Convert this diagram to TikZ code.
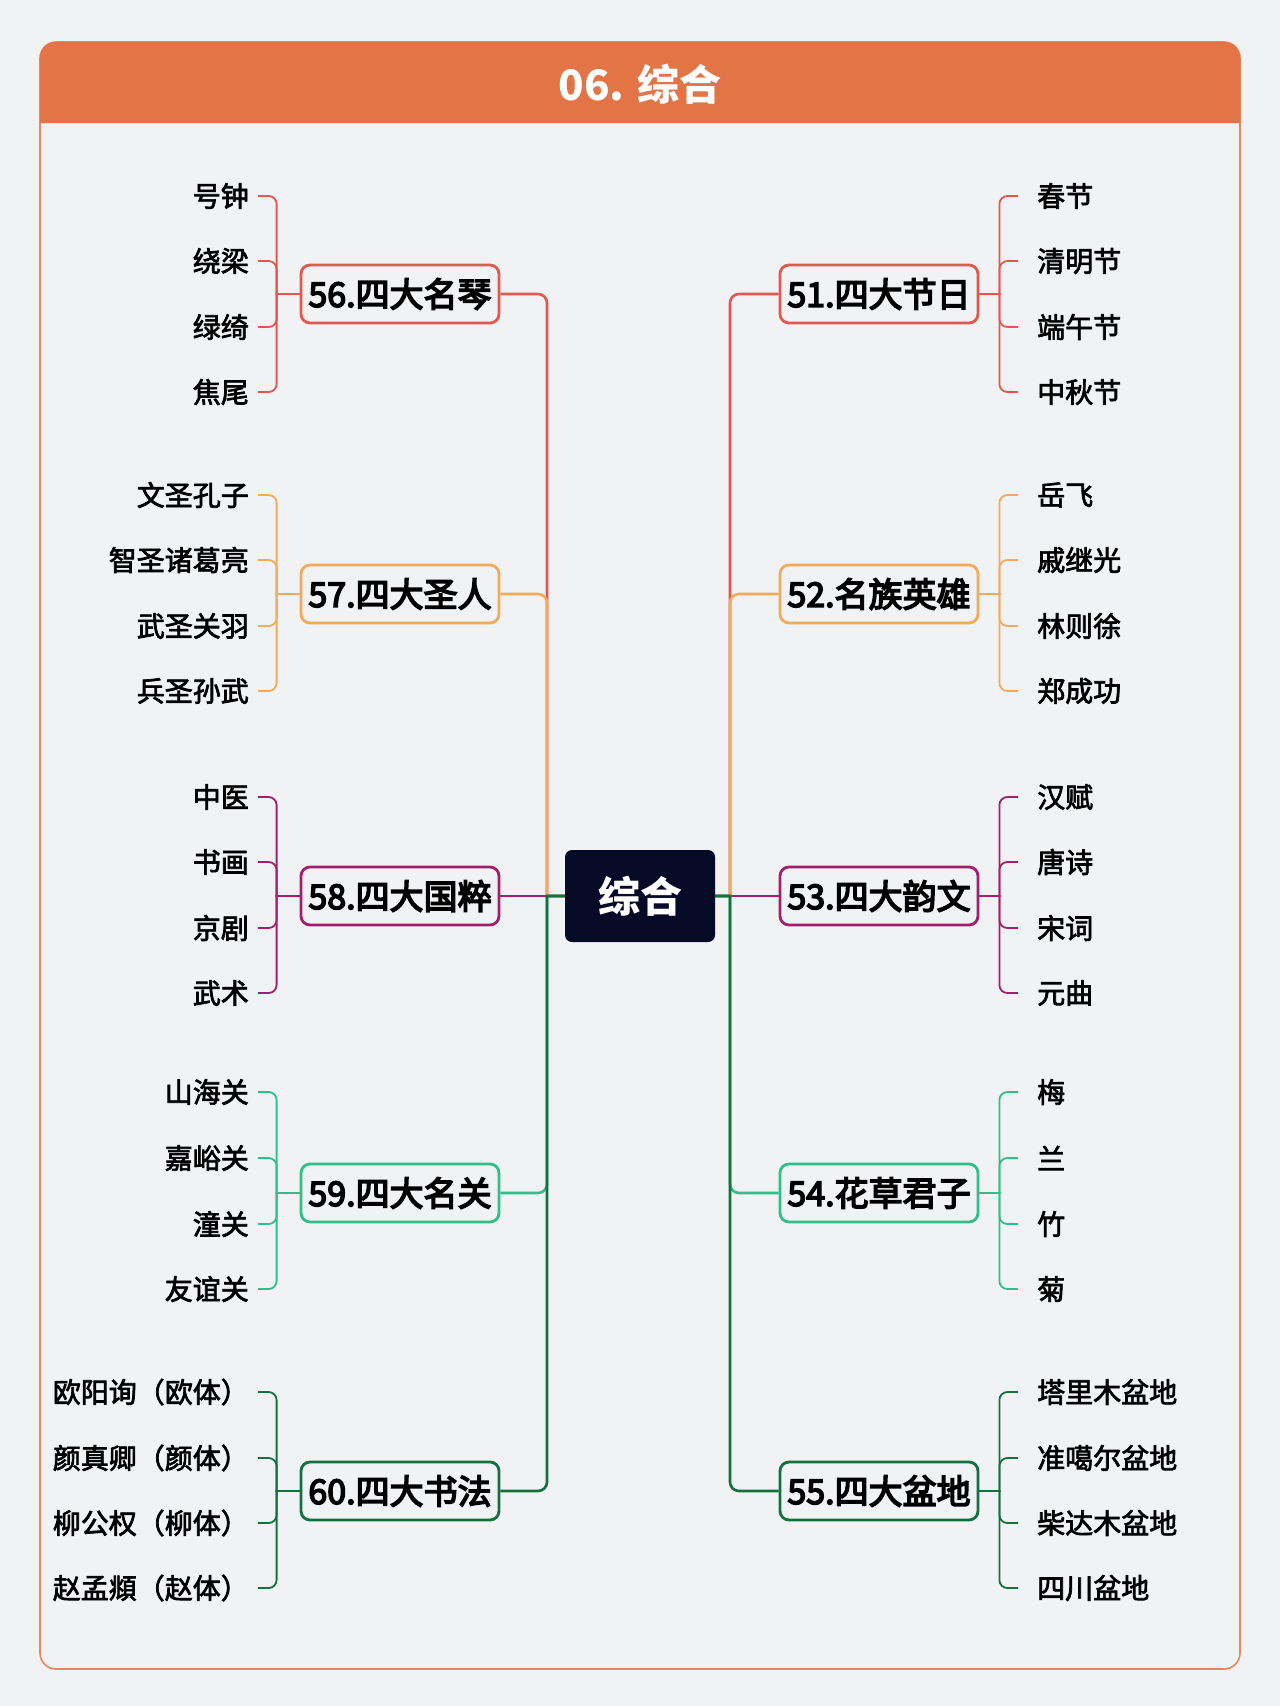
\documentclass[tikz,border=0pt]{standalone}
\usepackage{fontspec}
\setmainfont{Noto Sans CJK SC}
\newfontfamily\topicfont{Noto Sans CJK SC}[FakeBold=4.5]
\newfontfamily\leaffont{Noto Sans CJK SC}[FakeBold=2.5]
\usetikzlibrary{positioning}

\definecolor{bgcol}{HTML}{F0F2F3}
\definecolor{headcol}{HTML}{E27446}
\definecolor{framecol}{HTML}{E8875A}
\definecolor{rootcol}{HTML}{070A27}
\definecolor{cred}{HTML}{E2574F}
\definecolor{corange}{HTML}{F2AA5C}
\definecolor{cpurple}{HTML}{A11F6C}
\definecolor{cteal}{HTML}{2FBF88}
\definecolor{cgreen}{HTML}{14703F}

\begin{document}
\begin{tikzpicture}[
    x=1pt, y=-1pt,
    % Node styles
    title/.style={text=white, font=\fontsize{42}{42}\selectfont\bfseries},
    root/.style={fill=rootcol, rounded corners=7pt, minimum width=150pt, minimum height=92pt, text=white, font=\fontsize{42}{42}\selectfont\bfseries},
    topic/.style={draw=#1, line width=2.8pt, fill=bgcol, rounded corners=9pt, minimum width=198pt, minimum height=58pt, inner sep=0pt, font=\fontsize{34}{34}\topicfont},
    leafl/.style={anchor=east, inner xsep=9pt, inner ysep=0pt, font=\fontsize{28}{28}\leaffont},
    leafr/.style={anchor=west, inner xsep=19pt, inner ysep=0pt, font=\fontsize{28}{28}\leaffont},
    trunk/.style={line width=2.6pt},
    twig/.style={line width=1.8pt},
]

    % Page and frame
    \fill[bgcol] (0,0) rectangle (1280,1706);
    \draw[framecol, line width=1.6pt, rounded corners=16pt] (40,42) rectangle (1240,1669);
    \fill[headcol] (40,123) [rounded corners=16pt]-- (40,42) -- (1240,42) [sharp corners]-- (1240,123) -- cycle;
    \node[title] (head) at (640,84) {06. 综合};

    % Centre
    \node[root] (root) at (640,896) {综合};
    \coordinate (ltrunk) at (547,896);
    \coordinate (rtrunk) at (730,896);

    % Left topics
    \node[topic=cred] (qin) at (400,294) {56.四大名琴};
    \node[topic=corange] (sage) at (400,594) {57.四大圣人};
    \node[topic=cpurple] (art) at (400,896) {58.四大国粹};
    \node[topic=cteal] (pass) at (400,1193) {59.四大名关};
    \node[topic=cgreen] (calli) at (400,1491) {60.四大书法};

    % Right topics
    \node[topic=cred] (fest) at (879,294) {51.四大节日};
    \node[topic=corange] (hero) at (879,594) {52.名族英雄};
    \node[topic=cpurple] (verse) at (879,896) {53.四大韵文};
    \node[topic=cteal] (plant) at (879,1193) {54.花草君子};
    \node[topic=cgreen] (basin) at (879,1491) {55.四大盆地};

    % Left leaves
    \node[leafl] (qin1) at (258,196) {号钟};
    \node[leafl] (qin2) at (258,261) {绕梁};
    \node[leafl] (qin3) at (258,327) {绿绮};
    \node[leafl] (qin4) at (258,392) {焦尾};
    \node[leafl] (sage1) at (258,495) {文圣孔子};
    \node[leafl] (sage2) at (258,560) {智圣诸葛亮};
    \node[leafl] (sage3) at (258,626) {武圣关羽};
    \node[leafl] (sage4) at (258,691) {兵圣孙武};
    \node[leafl] (art1) at (258,797) {中医};
    \node[leafl] (art2) at (258,862) {书画};
    \node[leafl] (art3) at (258,928) {京剧};
    \node[leafl] (art4) at (258,993) {武术};
    \node[leafl] (pass1) at (258,1092) {山海关};
    \node[leafl] (pass2) at (258,1158) {嘉峪关};
    \node[leafl] (pass3) at (258,1224) {潼关};
    \node[leafl] (pass4) at (258,1289) {友谊关};
    \node[leafl] (calli1) at (258,1392) {欧阳询（欧体）};
    \node[leafl] (calli2) at (258,1458) {颜真卿（颜体）};
    \node[leafl] (calli3) at (258,1523) {柳公权（柳体）};
    \node[leafl] (calli4) at (258,1588) {赵孟頫（赵体）};

    % Right leaves
    \node[leafr] (fest1) at (1018,196) {春节};
    \node[leafr] (fest2) at (1018,261) {清明节};
    \node[leafr] (fest3) at (1018,327) {端午节};
    \node[leafr] (fest4) at (1018,392) {中秋节};
    \node[leafr] (hero1) at (1018,495) {岳飞};
    \node[leafr] (hero2) at (1018,560) {戚继光};
    \node[leafr] (hero3) at (1018,626) {林则徐};
    \node[leafr] (hero4) at (1018,691) {郑成功};
    \node[leafr] (verse1) at (1018,797) {汉赋};
    \node[leafr] (verse2) at (1018,862) {唐诗};
    \node[leafr] (verse3) at (1018,928) {宋词};
    \node[leafr] (verse4) at (1018,993) {元曲};
    \node[leafr] (plant1) at (1018,1092) {梅};
    \node[leafr] (plant2) at (1018,1158) {兰};
    \node[leafr] (plant3) at (1018,1224) {竹};
    \node[leafr] (plant4) at (1018,1289) {菊};
    \node[leafr] (basin1) at (1018,1392) {塔里木盆地};
    \node[leafr] (basin2) at (1018,1458) {准噶尔盆地};
    \node[leafr] (basin3) at (1018,1523) {柴达木盆地};
    \node[leafr] (basin4) at (1018,1588) {四川盆地};

    % Trunks from the centre
    \draw[trunk, cred] (root.west) -- (ltrunk) [rounded corners=9pt]|- (qin.east);
    \draw[trunk, corange] (root.west) -- (ltrunk) [rounded corners=9pt]|- (sage.east);
    \draw[trunk, cpurple] (root.west) -- (art.east);
    \draw[trunk, cteal] (root.west) -- (ltrunk) [rounded corners=9pt]|- (pass.east);
    \draw[trunk, cgreen] (root.west) -- (ltrunk) [rounded corners=9pt]|- (calli.east);
    \draw[trunk, cred] (root.east) -- (rtrunk) [rounded corners=9pt]|- (fest.west);
    \draw[trunk, corange] (root.east) -- (rtrunk) [rounded corners=9pt]|- (hero.west);
    \draw[trunk, cpurple] (root.east) -- (verse.west);
    \draw[trunk, cteal] (root.east) -- (rtrunk) [rounded corners=9pt]|- (plant.west);
    \draw[trunk, cgreen] (root.east) -- (rtrunk) [rounded corners=9pt]|- (basin.west);

    % Twigs to the leaves
    \draw[twig, cred] (qin.west) -- ++(-23,0) [rounded corners=8pt]|- (qin1.east);
    \draw[twig, cred] (qin.west) -- ++(-23,0) [rounded corners=8pt]|- (qin2.east);
    \draw[twig, cred] (qin.west) -- ++(-23,0) [rounded corners=8pt]|- (qin3.east);
    \draw[twig, cred] (qin.west) -- ++(-23,0) [rounded corners=8pt]|- (qin4.east);
    \draw[twig, corange] (sage.west) -- ++(-23,0) [rounded corners=8pt]|- (sage1.east);
    \draw[twig, corange] (sage.west) -- ++(-23,0) [rounded corners=8pt]|- (sage2.east);
    \draw[twig, corange] (sage.west) -- ++(-23,0) [rounded corners=8pt]|- (sage3.east);
    \draw[twig, corange] (sage.west) -- ++(-23,0) [rounded corners=8pt]|- (sage4.east);
    \draw[twig, cpurple] (art.west) -- ++(-23,0) [rounded corners=8pt]|- (art1.east);
    \draw[twig, cpurple] (art.west) -- ++(-23,0) [rounded corners=8pt]|- (art2.east);
    \draw[twig, cpurple] (art.west) -- ++(-23,0) [rounded corners=8pt]|- (art3.east);
    \draw[twig, cpurple] (art.west) -- ++(-23,0) [rounded corners=8pt]|- (art4.east);
    \draw[twig, cteal] (pass.west) -- ++(-23,0) [rounded corners=8pt]|- (pass1.east);
    \draw[twig, cteal] (pass.west) -- ++(-23,0) [rounded corners=8pt]|- (pass2.east);
    \draw[twig, cteal] (pass.west) -- ++(-23,0) [rounded corners=8pt]|- (pass3.east);
    \draw[twig, cteal] (pass.west) -- ++(-23,0) [rounded corners=8pt]|- (pass4.east);
    \draw[twig, cgreen] (calli.west) -- ++(-23,0) [rounded corners=8pt]|- (calli1.east);
    \draw[twig, cgreen] (calli.west) -- ++(-23,0) [rounded corners=8pt]|- (calli2.east);
    \draw[twig, cgreen] (calli.west) -- ++(-23,0) [rounded corners=8pt]|- (calli3.east);
    \draw[twig, cgreen] (calli.west) -- ++(-23,0) [rounded corners=8pt]|- (calli4.east);

    \draw[twig, cred] (fest.east) -- ++(20,0) [rounded corners=8pt]|- (fest1.west);
    \draw[twig, cred] (fest.east) -- ++(20,0) [rounded corners=8pt]|- (fest2.west);
    \draw[twig, cred] (fest.east) -- ++(20,0) [rounded corners=8pt]|- (fest3.west);
    \draw[twig, cred] (fest.east) -- ++(20,0) [rounded corners=8pt]|- (fest4.west);
    \draw[twig, corange] (hero.east) -- ++(20,0) [rounded corners=8pt]|- (hero1.west);
    \draw[twig, corange] (hero.east) -- ++(20,0) [rounded corners=8pt]|- (hero2.west);
    \draw[twig, corange] (hero.east) -- ++(20,0) [rounded corners=8pt]|- (hero3.west);
    \draw[twig, corange] (hero.east) -- ++(20,0) [rounded corners=8pt]|- (hero4.west);
    \draw[twig, cpurple] (verse.east) -- ++(20,0) [rounded corners=8pt]|- (verse1.west);
    \draw[twig, cpurple] (verse.east) -- ++(20,0) [rounded corners=8pt]|- (verse2.west);
    \draw[twig, cpurple] (verse.east) -- ++(20,0) [rounded corners=8pt]|- (verse3.west);
    \draw[twig, cpurple] (verse.east) -- ++(20,0) [rounded corners=8pt]|- (verse4.west);
    \draw[twig, cteal] (plant.east) -- ++(20,0) [rounded corners=8pt]|- (plant1.west);
    \draw[twig, cteal] (plant.east) -- ++(20,0) [rounded corners=8pt]|- (plant2.west);
    \draw[twig, cteal] (plant.east) -- ++(20,0) [rounded corners=8pt]|- (plant3.west);
    \draw[twig, cteal] (plant.east) -- ++(20,0) [rounded corners=8pt]|- (plant4.west);
    \draw[twig, cgreen] (basin.east) -- ++(20,0) [rounded corners=8pt]|- (basin1.west);
    \draw[twig, cgreen] (basin.east) -- ++(20,0) [rounded corners=8pt]|- (basin2.west);
    \draw[twig, cgreen] (basin.east) -- ++(20,0) [rounded corners=8pt]|- (basin3.west);
    \draw[twig, cgreen] (basin.east) -- ++(20,0) [rounded corners=8pt]|- (basin4.west);

\end{tikzpicture}
\end{document}
